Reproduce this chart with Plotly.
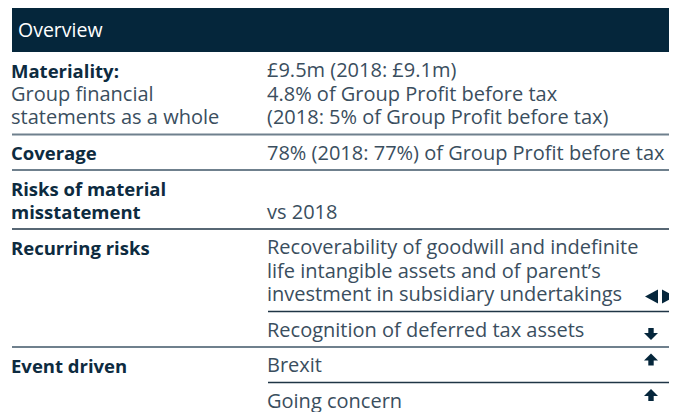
import plotly.graph_objects as go

# ---- content ----
title = "Overview"

labels = ["Materiality:", "Coverage", "Risks of material\nmisstatement", "Recurring risks", "Event driven"]
label_notes = ["Group financial\nstatements as a whole", "", "", "", ""]

details = [
    ["£9.5m (2018: £9.1m)\n4.8% of Group Profit before tax\n(2018: 5% of Group Profit before tax)"],
    ["78% (2018: 77%) of Group Profit before tax"],
    ["vs 2018"],
    ["Recoverability of goodwill and indefinite\nlife intangible assets and of parent’s\ninvestment in subsidiary undertakings",
     "Recognition of deferred tax assets"],
    ["Brexit", "Going concern"],
]
# change vs 2018: "same", "down", "up"
trends = [[""], [""], [""], ["same", "down"], ["up", "up"]]
row_rules = ["grey", "grey", "dark", "grey", ""]

# ---- style / layout ----
W, H = 677, 412
PAGE_MARGIN = 8  # default <body> margin of the html page
LEFT, RIGHT_COL, RIGHT_EDGE = 12, 268, 675
BAND_TOP, BAND_BOTTOM = 5, 52
FIRST, LEAD, GAP = 24.5, 23.5, 11
SIZE, BOLD_SIZE = 20, 18.5
FONT = "Open Sans"
NAVY = "#05263b"
HEAD = "#0d2b40"
BODY = "#3a4e5e"
RULES = {"grey": ("#6f808d", 2), "dark": ("#1f3546", 1.3)}
ICON_X = 651
ICON_DY = {"same": -4, "down": -2, "up": -12}

fig = go.Figure()


def text(x, baseline, s, color=BODY, bold=False, size=SIZE, anchor="left"):
    fig.add_annotation(
        x=x, y=baseline - 0.33 * size, text=f"<b>{s}</b>" if bold else s,
        xanchor=anchor, yanchor="middle", showarrow=False, xshift=-3,
        font=dict(family=FONT, size=size, color=color),
    )


def rule(y, kind, x0=LEFT):
    color, width = RULES[kind]
    fig.add_shape(type="line", x0=x0, x1=RIGHT_EDGE, y0=y, y1=y,
                  line=dict(color=color, width=width))


def poly(pts):
    path = "M" + " L".join(f"{x},{y}" for x, y in pts) + " Z"
    fig.add_shape(type="path", path=path, fillcolor=NAVY, line_width=0)


def icon(kind, cx, cy):
    if kind == "same":
        c = cx + 9
        poly([(c - 15, cy), (c - 2, cy - 7), (c - 2, cy + 7)])
        poly([(c + 15, cy), (c + 2, cy - 7), (c + 2, cy + 7)])
    else:
        s = 1 if kind == "down" else -1
        t = cy - s * 6
        poly([(cx - 2.7, t), (cx + 2.7, t), (cx + 2.7, t + s * 5.5), (cx - 2.7, t + s * 5.5)])
        poly([(cx - 7, t + s * 5), (cx + 7, t + s * 5), (cx, t + s * 12)])


# header band
fig.add_shape(type="rect", x0=LEFT, x1=RIGHT_EDGE, y0=BAND_TOP, y1=BAND_BOTTOM,
              fillcolor=NAVY, line_width=0)
text(LEFT + 7, 36, title, color="white", size=19.5)

cursor = BAND_BOTTOM
for label, note, items, icons, rkind in zip(labels, label_notes, details, trends, row_rules):
    top = cursor + FIRST
    left_lines = [(l, True) for l in label.split("\n")] + [(l, False) for l in note.split("\n") if l]
    for i, (line, bold) in enumerate(left_lines):
        if bold:
            text(LEFT, top + i * LEAD, line, color=HEAD, bold=True, size=BOLD_SIZE)
        else:
            text(LEFT, top + i * LEAD, line)
    left_last = top + (len(left_lines) - 1) * LEAD

    y = top
    if len(items) == 1 and items[0].count("\n") + 1 < len(left_lines):
        y = left_last
    right_last = y
    for k, (item, trend) in enumerate(zip(items, icons)):
        lines = item.split("\n")
        for i, line in enumerate(lines):
            text(RIGHT_COL, y + i * LEAD, line)
        right_last = y + (len(lines) - 1) * LEAD
        if trend:
            icon(trend, ICON_X, right_last + ICON_DY[trend])
        if k < len(items) - 1:
            sep = right_last + GAP
            rule(sep, "dark", x0=RIGHT_COL)
            y = sep + FIRST

    cursor = max(left_last, right_last) + GAP
    if rkind:
        rule(cursor, rkind)

# the page puts the figure 8px in from the top-left corner, so map the
# axes onto the visible window pixels
fig.update_xaxes(range=[PAGE_MARGIN, W], visible=False, fixedrange=True)
fig.update_yaxes(range=[H, PAGE_MARGIN], visible=False, fixedrange=True)
fig.update_layout(
    width=W - PAGE_MARGIN, height=H - PAGE_MARGIN,
    margin=dict(l=0, r=0, t=0, b=0),
    plot_bgcolor="white", paper_bgcolor="white",
    showlegend=False,
)

fig.write_html("out.html")
